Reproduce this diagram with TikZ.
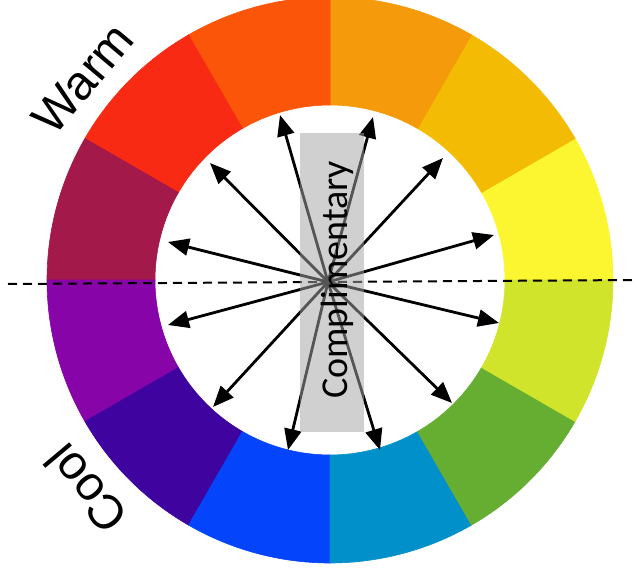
\documentclass[tikz,border=0pt]{standalone}
\usepackage{fontspec}
\setmainfont{Liberation Sans}
\newfontfamily\calib{Carlito}
\usetikzlibrary{arrows.meta}
\definecolor{cY}{HTML}{FCF630}
\definecolor{cYO}{HTML}{F4BB05}
\definecolor{cO}{HTML}{F59A0A}
\definecolor{cRO}{HTML}{FA5508}
\definecolor{cR}{HTML}{F92A14}
\definecolor{cM}{HTML}{A3194A}
\definecolor{cV}{HTML}{8704A9}
\definecolor{cI}{HTML}{3F03A0}
\definecolor{cB}{HTML}{0444FA}
\definecolor{cT}{HTML}{0290CB}
\definecolor{cG}{HTML}{66AE32}
\definecolor{cYG}{HTML}{D0E42C}
\definecolor{boxgray}{RGB}{164,164,164}
\begin{document}
\begin{tikzpicture}[x=1pt,y=-1pt,
  arr/.style={line width=2.8pt,-{Triangle[length=21pt,width=17pt]}},
  dashline/.style={line width=2pt,dash pattern=on 9pt off 6pt},
  compbox/.style={fill=boxgray,fill opacity=0.52,draw=none,minimum width=64pt,minimum height=299pt,inner sep=0pt},
  bigtext/.style={font=\fontsize{48}{58}\selectfont,inner sep=0pt}]
\useasboundingbox (0,0) rectangle (637,572);
% colour wheel
\begin{scope}[shift={(330,280)},yscale=-1]
\foreach \a/\c in {0/cY,30/cYO,60/cO,90/cRO,120/cR,150/cM,180/cV,210/cI,240/cB,270/cT,300/cG,330/cYG}{
  \filldraw[fill=\c,draw=\c,line width=0.6pt] (\a:175) -- (\a:283) arc[start angle=\a,end angle=\a+30,radius=283] -- ({\a+30}:175) arc[start angle=\a+30,end angle=\a,radius=175] -- cycle;
}
\end{scope}
% dashed horizontal
\coordinate (dl) at (8,284);
\coordinate (dr) at (637,280);
\draw[dashline] (dl) -- (dr);
% arrows
\coordinate (c) at (328,282);
\coordinate (t1) at (373,117);
\coordinate (t2) at (443,158);
\coordinate (t3) at (494,235);
\coordinate (t4) at (499,323);
\coordinate (t5) at (452,403);
\coordinate (t6) at (380,450);
\coordinate (t7) at (288,450);
\coordinate (t8) at (213,407);
\coordinate (t9) at (168,325);
\coordinate (t10) at (168,242);
\coordinate (t11) at (210,163);
\coordinate (t12) at (280,115);
\foreach \i in {1,...,12}{\draw[arr] (c) -- (t\i);}
% complimentary box
\node[compbox] (box) at (332,282.5) {};
\node[rotate=90,anchor=base west,inner sep=0pt,font=\calib\fontsize{38}{46}\selectfont] (comp) at (347,399) {Complimentary};
% labels
\node[bigtext,rotate=50] (warm) at (83,79) {Warm};
\node[bigtext,rotate=130] (cool) at (86,489) {Cool};
\end{tikzpicture}
\end{document}
